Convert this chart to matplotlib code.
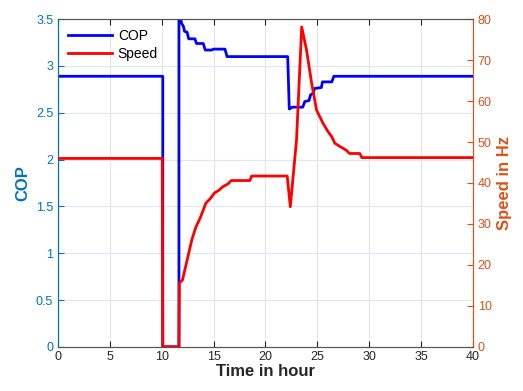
import matplotlib
matplotlib.use("Agg")
import matplotlib.pyplot as plt

plt.rcParams['font.family'] = ['Liberation Sans', 'DejaVu Sans']

# COP series (time in hour, COP)
cop_t = [0, 10.1, 10.1, 11.66, 11.66, 11.9, 12.1, 12.2, 12.45, 12.6, 13.2, 13.35, 14.0, 14.2,
         14.8, 15.0, 16.1, 16.3, 22.15, 22.3, 22.6, 23.6, 23.8, 24.2, 24.35, 24.6, 24.75,
         25.4, 25.5, 26.4, 26.6, 40]
cop_v = [2.89, 2.89, 0.0, 0.0, 3.6, 3.46, 3.42, 3.37, 3.36, 3.29, 3.29, 3.24, 3.24, 3.17,
         3.17, 3.18, 3.18, 3.10, 3.10, 2.54, 2.56, 2.56, 2.62, 2.63, 2.69, 2.71, 2.76,
         2.77, 2.83, 2.83, 2.89, 2.89]

# Speed series (time in hour, Hz)
spd_t = [0, 10.05, 10.1, 11.66, 11.7, 12.0, 12.9, 13.3, 13.7, 14.26, 14.65, 15.1, 15.45, 15.9,
         16.4, 16.7, 18.5, 18.67, 22.1, 22.4, 23.0, 23.5, 23.97, 24.45, 24.93, 25.57, 26.05,
         26.4, 26.7, 27.2, 27.8, 28.1, 29.1, 29.3, 40]
spd_v = [46, 46, 0, 0, 15.6, 16.3, 26.1, 29.3, 31.4, 35.1, 36.1, 37.6, 38.1, 39.1,
         39.8, 40.6, 40.6, 41.7, 41.7, 34.2, 50.5, 78.1, 72.4, 64.5, 57.8, 54.5, 52.5,
         51.3, 49.7, 48.9, 48.0, 47.2, 47.2, 46.2, 46.2]

x_ticks = [0, 5, 10, 15, 20, 25, 30, 35, 40]
left_ticks = [0, 0.5, 1, 1.5, 2, 2.5, 3, 3.5]
left_labels = ['0', '0.5', '1', '1.5', '2', '2.5', '3', '3.5']
right_ticks = [0, 10, 20, 30, 40, 50, 60, 70, 80]

blue_ax = '#0072BD'
orange_ax = '#D95319'
dark = '#262626'

fig = plt.figure(figsize=(5.23, 3.91), dpi=100)
ax = fig.add_axes([0.111, 0.113, 0.793, 0.838])
ax2 = ax.twinx()

# grids
for xv in x_ticks[1:-1]:
    ax.axvline(xv, color='#e3e3e3', lw=0.8, zorder=0)
for yv in left_ticks[1:-1]:
    ax.axhline(yv, color='#dce8f3', lw=0.8, zorder=0)

l1, = ax.plot(cop_t, cop_v, color='#0000FF', lw=2, label='COP', zorder=3)
l2, = ax2.plot(spd_t, spd_v, color='#FF0000', lw=2, label='Speed', zorder=3)

ax.set_xlim(0, 40)
ax.set_ylim(0, 3.5)
ax2.set_ylim(0, 80)
ax.set_xticks(x_ticks)
ax.set_yticks(left_ticks)
ax.set_yticklabels(left_labels)
ax2.set_yticks(right_ticks)

ax.tick_params(axis='x', direction='in', top=True, colors=dark, labelsize=9, length=4, width=0.8, pad=3)
ax.tick_params(axis='y', direction='in', colors=blue_ax, labelsize=9, length=4, width=0.8)
ax2.tick_params(axis='y', direction='in', colors=orange_ax, labelsize=9, length=4, width=0.8)

for a in (ax, ax2):
    a.spines['top'].set_color('#555555')
    a.spines['bottom'].set_color('#555555')
    a.spines['left'].set_color(blue_ax)
    a.spines['right'].set_color(orange_ax)
    for s in a.spines.values():
        s.set_linewidth(0.8)

ax.set_xlabel('Time in hour', fontsize=12, fontweight='bold', color=dark, labelpad=1)
ax.set_ylabel('COP', fontsize=12, fontweight='bold', color=blue_ax, labelpad=4)
ax2.set_ylabel('Speed in Hz', fontsize=12, fontweight='bold', color=orange_ax, labelpad=4)

leg = ax2.legend(handles=[l1, l2], loc='upper left', frameon=False, fontsize=10,
                 handlelength=3.2, handletextpad=0.4, borderaxespad=0.3, labelspacing=0.3)

fig.savefig('out.png', dpi=100)
